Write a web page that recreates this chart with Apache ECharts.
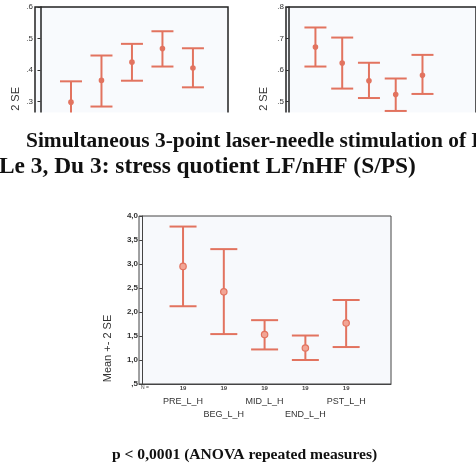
<!DOCTYPE html>
<html>
<head>
<meta charset="utf-8">
<script src="https://cdn.jsdelivr.net/npm/echarts@6/dist/echarts.min.js"></script>
<style>
  html, body { margin: 0; padding: 0; background: #fff; }
  #chart { width: 476px; height: 465px; }
</style>
</head>
<body>
<div id="chart"></div>
<script>
// measurement points and group sizes
var categories = ['PRE_L_H', 'BEG_L_H', 'MID_L_H', 'END_L_H', 'PST_L_H'];
var counts = [19, 19, 19, 19, 19];

// main panel: stress quotient LF/nHF, mean and mean +- 2 SE
var stressMean = [2.95, 2.42, 1.53, 1.25, 1.77];
var stressLow = [2.12, 1.54, 1.22, 1.00, 1.27];
var stressHigh = [3.78, 3.31, 1.83, 1.51, 2.25];

// cropped panels at the top
var leftMean = [0.298, 0.367, 0.425, 0.468, 0.406];
var leftLow = [0.232, 0.284, 0.366, 0.411, 0.345];
var leftHigh = [0.364, 0.446, 0.483, 0.523, 0.469];

var rightMean = [0.673, 0.622, 0.566, 0.522, 0.583];
var rightLow = [0.611, 0.541, 0.511, 0.470, 0.524];
var rightHigh = [0.735, 0.703, 0.623, 0.573, 0.648];

var positions = [1, 2, 3, 4, 5];

var errColor = '#e2735f';
var sans = 'Liberation Sans, Arial, sans-serif';
var serif = 'Liberation Serif, Times New Roman, serif';

function rows(mean, low, high) {
    return positions.map(function (p, i) {
        return [p, mean[i], low[i], high[i]];
    });
}

// error bar with caps and a dot at the mean
function errorBar(capHalf, r, lw, dotFill) {
    return function (params, api) {
        var x = api.value(0);
        var m = api.coord([x, api.value(1)]);
        var lo = api.coord([x, api.value(2)]);
        var hi = api.coord([x, api.value(3)]);
        var st = { stroke: errColor, lineWidth: lw };
        return {
            type: 'group',
            children: [
                { type: 'line', shape: { x1: m[0], y1: lo[1], x2: m[0], y2: hi[1] }, style: st },
                { type: 'line', shape: { x1: m[0] - capHalf, y1: hi[1], x2: m[0] + capHalf, y2: hi[1] }, style: st },
                { type: 'line', shape: { x1: m[0] - capHalf, y1: lo[1], x2: m[0] + capHalf, y2: lo[1] }, style: st },
                { type: 'circle', shape: { cx: m[0], cy: m[1], r: r }, style: { fill: dotFill, stroke: errColor, lineWidth: 1.2 } }
            ]
        };
    };
}

function dotLabel(v) {
    // .6 style labels (no leading zero)
    return v.toFixed(1).replace(/^0/, '');
}

function commaLabel(v) {
    // 4,0 ... ,5 style labels
    return v.toFixed(1).replace('.', ',').replace(/^0/, '');
}

var myChart = echarts.init(document.getElementById('chart'));

var option = {
    backgroundColor: '#fff',
    animation: false,
    title: [
        {
            text: 'Simultaneous 3-point laser-needle stimulation of L',
            left: 26, top: 131, padding: 0, z: 200,
            textStyle: { fontFamily: serif, fontWeight: 'bold', fontSize: 21.4, color: '#111' }
        },
        {
            text: 'Le 3, Du 3: stress quotient LF/nHF (S/PS)',
            left: -1, top: 155, padding: 0, z: 200,
            textStyle: { fontFamily: serif, fontWeight: 'bold', fontSize: 23.4, color: '#111' }
        },
        {
            text: 'p < 0,0001 (ANOVA repeated measures)',
            left: 112, top: 447, padding: 0, z: 200,
            textStyle: { fontFamily: serif, fontWeight: 'bold', fontSize: 15.6, color: '#111' }
        }
    ],
    grid: [
        { left: 35, top: 7, width: 193, height: 126, show: true, backgroundColor: '#f8fafd', borderColor: '#222', borderWidth: 1.5 },
        { left: 286, top: 7, width: 220, height: 126, show: true, backgroundColor: '#f8fafd', borderColor: '#222', borderWidth: 1.5 },
        { left: 139, top: 216, width: 252, height: 168, show: true, backgroundColor: '#f7f9fc', borderColor: '#444', borderWidth: 1 }
    ],
    xAxis: [
        { gridIndex: 0, type: 'value', min: -0.18, max: 6.15, show: false },
        { gridIndex: 1, type: 'value', min: -0.1, max: 7.0, show: false },
        {
            gridIndex: 2, type: 'value', min: -0.08, max: 6.1,
            splitLine: { show: false },
            axisLine: { show: true, lineStyle: { color: '#444', width: 1 } },
            axisTick: { show: false },
            axisLabel: {
                customValues: positions,
                margin: 1,
                formatter: function (v) {
                    var i = Math.round(v) - 1;
                    var n = '{n|' + counts[i] + '}\n{s| }\n';
                    return i % 2 === 0
                        ? n + '{a|' + categories[i] + '}\n{a| }'
                        : n + '{a| }\n{a|' + categories[i] + '}';
                },
                rich: {
                    n: { fontFamily: sans, fontSize: 6, fontWeight: 'bold', lineHeight: 6, color: '#444' },
                    s: { fontSize: 1, lineHeight: 4 },
                    a: { fontFamily: sans, fontSize: 9, lineHeight: 13.3, color: '#333' }
                }
            }
        }
    ],
    yAxis: [
        {
            gridIndex: 0, type: 'value', min: 0.2, max: 0.6, interval: 0.1,
            splitLine: { show: false },
            axisLine: { show: true, lineStyle: { color: '#222', width: 1.5 } },
            axisTick: { show: true, length: 3, lineStyle: { color: '#333' } },
            axisLabel: { margin: 2, fontFamily: sans, fontSize: 8, color: '#333', formatter: dotLabel }
        },
        {
            gridIndex: 1, type: 'value', min: 0.4, max: 0.8, interval: 0.1,
            splitLine: { show: false },
            axisLine: { show: true, lineStyle: { color: '#222', width: 1.5 } },
            axisTick: { show: true, length: 3, lineStyle: { color: '#333' } },
            axisLabel: { margin: 2, fontFamily: sans, fontSize: 8, color: '#333', formatter: dotLabel }
        },
        {
            gridIndex: 2, type: 'value', min: 0.5, max: 4.0, interval: 0.5,
            splitLine: { show: false },
            axisLine: { show: true, lineStyle: { color: '#444', width: 1 } },
            axisTick: { show: true, length: 3, lineStyle: { color: '#444' } },
            axisLabel: { margin: 1, fontFamily: sans, fontSize: 8, fontWeight: 'bold', color: '#333', formatter: commaLabel }
        }
    ],
    series: [
        {
            type: 'custom', xAxisIndex: 0, yAxisIndex: 0,
            renderItem: errorBar(11, 2.2, 2, errColor),
            encode: { x: 0, y: [1, 2, 3] },
            data: rows(leftMean, leftLow, leftHigh)
        },
        {
            type: 'custom', xAxisIndex: 1, yAxisIndex: 1,
            renderItem: errorBar(11, 2.2, 2, errColor),
            encode: { x: 0, y: [1, 2, 3] },
            data: rows(rightMean, rightLow, rightHigh)
        },
        {
            type: 'custom', xAxisIndex: 2, yAxisIndex: 2,
            renderItem: errorBar(13.5, 3.2, 2, '#f2a595'),
            encode: { x: 0, y: [1, 2, 3] },
            data: rows(stressMean, stressLow, stressHigh)
        }
    ],
    graphic: [
        // the two upper panels are cut off here
        { type: 'rect', z: 100, shape: { x: 0, y: 112.5, width: 476, height: 80 }, style: { fill: '#fff' } },
        {
            type: 'text', x: 16, y: 87, rotation: Math.PI / 2, z: 50,
            style: { text: 'Mean +- 2 SE', font: '11px ' + sans, fill: '#333', textAlign: 'right', textVerticalAlign: 'middle' }
        },
        {
            type: 'text', x: 264, y: 87, rotation: Math.PI / 2, z: 50,
            style: { text: 'Mean +- 2 SE', font: '11px ' + sans, fill: '#333', textAlign: 'right', textVerticalAlign: 'middle' }
        },
        {
            type: 'text', x: 107.5, y: 348.5, rotation: Math.PI / 2, z: 50,
            style: { text: 'Mean +- 2 SE', font: '11px ' + sans, fill: '#333', textAlign: 'center', textVerticalAlign: 'middle' }
        },
        {
            type: 'text', x: 141, y: 388, z: 50,
            style: { text: 'N =', font: '5px ' + sans, fill: '#444', textAlign: 'left', textVerticalAlign: 'middle' }
        }
    ]
};

myChart.setOption(option);
</script>
</body>
</html>
